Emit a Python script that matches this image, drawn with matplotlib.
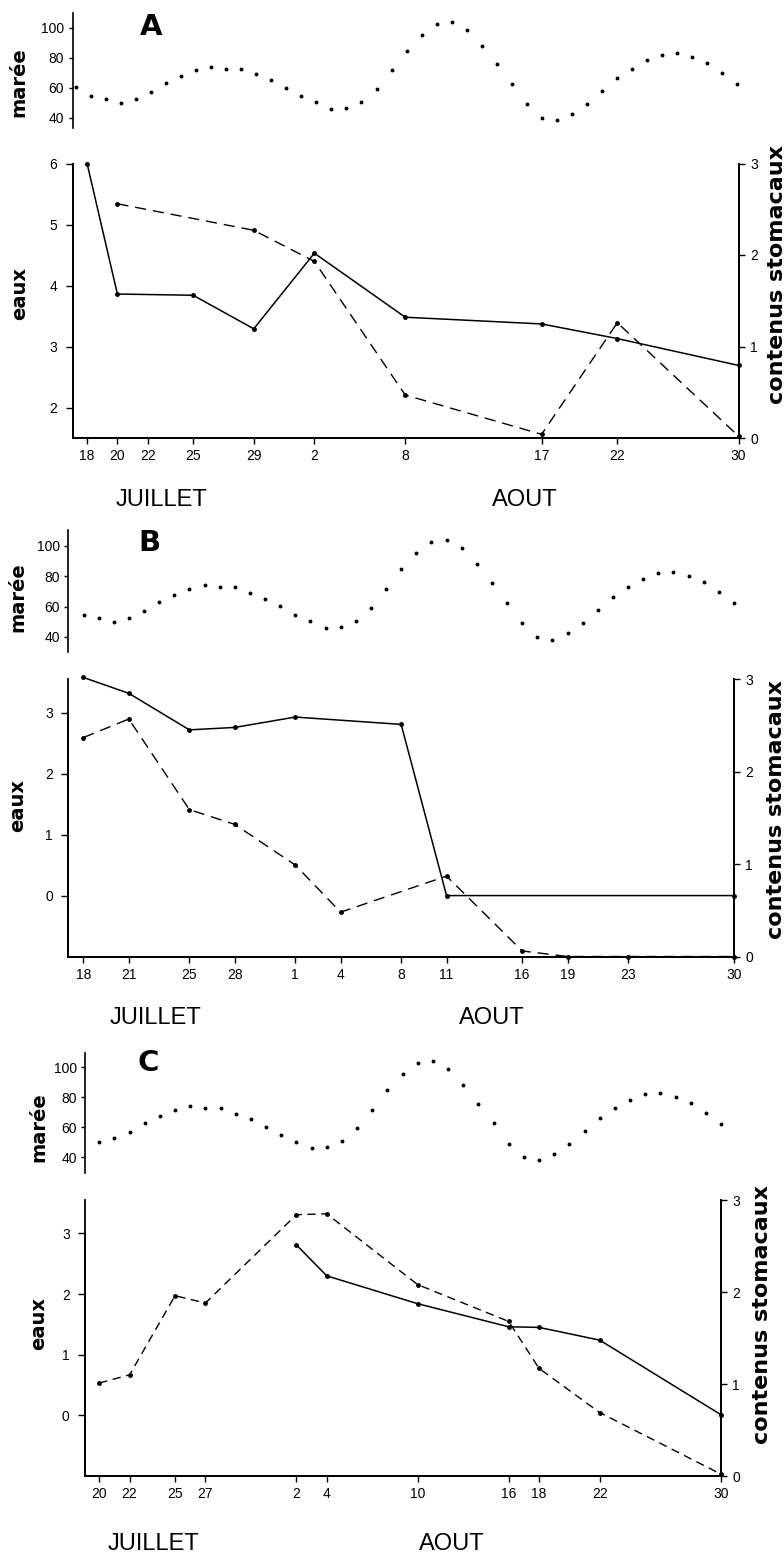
import matplotlib.pyplot as plt

W, H = 784, 1554
plt.rcParams['font.family'] = ['Liberation Sans', 'DejaVu Sans']

# coefficient de marée, un point par jour du 17 juillet au 30 août
tide = [60.4, 54.6, 52.6, 49.9, 52.6, 56.8, 63.1, 67.5, 71.8, 74.0, 72.7, 72.7,
        69.1, 65.3, 60.1, 54.6, 50.3, 46.0, 46.7, 50.7, 59.3, 71.8, 84.8, 95.5,
        102.7, 104.0, 98.9, 88.1, 75.8, 62.6, 49.0, 40.0, 38.3, 42.5, 49.0, 57.7,
        66.2, 72.7, 78.3, 82.1, 83.0, 80.3, 76.5, 69.5, 62.4]
tide_days = list(range(-1, 44))  # jour 0 = 18 juillet

# A
a_tick_days = [0, 2, 4, 7, 11, 15, 21, 30, 35, 43]
a_tick_labels = ['18', '20', '22', '25', '29', '2', '8', '17', '22', '30']
a_eaux_days = [0, 2, 7, 11, 15, 21, 30, 35, 43]
a_eaux = [6.0, 3.86, 3.84, 3.29, 4.53, 3.48, 3.37, 3.13, 2.69]
a_cont_days = [2, 11, 15, 21, 30, 35, 43]
a_cont = [2.56, 2.27, 1.93, 0.47, 0.04, 1.26, 0.02]

# B
b_tick_days = [0, 3, 7, 10, 14, 17, 21, 24, 29, 32, 36, 43]
b_tick_labels = ['18', '21', '25', '28', '1', '4', '8', '11', '16', '19', '23', '30']
b_eaux_days = [0, 3, 7, 10, 14, 21, 24, 43]
b_eaux = [3.58, 3.32, 2.72, 2.76, 2.93, 2.81, 0.0, 0.0]
b_cont_days = [0, 3, 7, 10, 14, 17, 24, 29, 32, 36, 43]
b_cont = [2.37, 2.57, 1.59, 1.43, 0.99, 0.48, 0.87, 0.06, 0.0, 0.0, 0.0]

# C
c_tick_days = [2, 4, 7, 9, 15, 17, 23, 29, 31, 35, 43]
c_tick_labels = ['20', '22', '25', '27', '2', '4', '10', '16', '18', '22', '30']
c_eaux_days = [15, 17, 23, 29, 31, 35, 43]
c_eaux = [2.81, 2.30, 1.84, 1.46, 1.45, 1.24, 0.01]
c_cont_days = [2, 4, 7, 9, 15, 17, 23, 29, 31, 35, 43]
c_cont = [1.01, 1.10, 1.96, 1.88, 2.84, 2.85, 2.08, 1.68, 1.17, 0.69, 0.02]

panels = [
    dict(letter='A', tide_start=-1,
         tide_box=(72.5, 13, 739, 128), tide_xlim=(-1.22, 43.11), tide_ylim=(33, 110),
         box=(72.7, 163.5, 739.3, 438), xlim=(-0.95, 43.05),
         ylim=(1.5, 6.0), yticks=[2, 3, 4, 5, 6],
         ticks=a_tick_days, labels=a_tick_labels,
         eaux_d=a_eaux_days, eaux=a_eaux, cont_d=a_cont_days, cont=a_cont,
         maree=(19, 82), eaux_lab=(19.5, 293), cont_lab=(777, 275),
         let=(151, 27), juil=(162, 500), aout=(525, 500), dash=(8, 5)),
    dict(letter='B', tide_start=0,
         tide_box=(68.4, 530, 734, 651.7), tide_xlim=(-1, 43), tide_ylim=(30.3, 110.5),
         box=(68.3, 679.3, 734, 956.5), xlim=(-1, 43),
         ylim=(-1, 3.55), yticks=[0, 1, 2, 3],
         ticks=b_tick_days, labels=b_tick_labels,
         eaux_d=b_eaux_days, eaux=b_eaux, cont_d=b_cont_days, cont=b_cont,
         maree=(17.5, 597), eaux_lab=(17.5, 805), cont_lab=(776, 810),
         let=(149, 543), juil=(155, 1018), aout=(492, 1018), dash=(8, 5)),
    dict(letter='C', tide_start=2,
         tide_box=(85, 1053.3, 721, 1173.3), tide_xlim=(1.06, 43), tide_ylim=(29.3, 109.3),
         box=(85, 1200, 721, 1476), xlim=(1.06, 43),
         ylim=(-1, 3.55), yticks=[0, 1, 2, 3],
         ticks=c_tick_days, labels=c_tick_labels,
         eaux_d=c_eaux_days, eaux=c_eaux, cont_d=c_cont_days, cont=c_cont,
         maree=(39, 1127), eaux_lab=(39, 1324), cont_lab=(762, 1314),
         let=(148, 1063), juil=(153, 1544), aout=(452, 1544), dash=(6, 4)),
]


def box(l, t, r, b):
    return [l / W, 1 - b / H, (r - l) / W, (b - t) / H]


def ftext(x, y, s, **kw):
    fig.text(x / W, 1 - y / H, s, ha='center', va='center', **kw)


fig = plt.figure(figsize=(W / 100, H / 100), dpi=100)

for p in panels:
    # marée
    tx = fig.add_axes(box(*p['tide_box']))
    i0 = tide_days.index(p['tide_start'])
    tx.plot(tide_days[i0:], tide[i0:], 'o', color='black', ms=1.8, clip_on=False)
    tx.set_xlim(*p['tide_xlim'])
    tx.set_ylim(*p['tide_ylim'])
    for s in ['top', 'right', 'bottom']:
        tx.spines[s].set_visible(False)
    tx.spines['left'].set_linewidth(1.2)
    tx.set_xticks([])
    tx.set_yticks([40, 60, 80, 100])
    tx.tick_params(axis='y', length=3, width=1, pad=3, labelsize=10)

    # eaux / contenus stomacaux
    ax = fig.add_axes(box(*p['box']))
    ax2 = ax.twinx()
    ax.plot(p['eaux_d'], p['eaux'], '-o', color='black', lw=1.1, ms=2.5, clip_on=False)
    ax2.plot(p['cont_d'], p['cont'], '--o', color='black', lw=1.0, ms=2.5,
             dashes=p['dash'], clip_on=False)
    ax.set_xlim(*p['xlim'])
    ax.set_ylim(*p['ylim'])
    ax2.set_ylim(0, 3)
    ax.set_xticks(p['ticks'])
    ax.set_xticklabels(p['labels'])
    ax.set_yticks(p['yticks'])
    ax2.set_yticks([0, 1, 2, 3])
    for a in (ax, ax2):
        a.spines['top'].set_visible(False)
        for s in ['left', 'right', 'bottom']:
            a.spines[s].set_linewidth(1.3)
    ax.spines['left'].set_bounds(p['ylim'][0], p['yticks'][-1])
    ax.tick_params(axis='x', length=4, width=1, pad=4, labelsize=10)
    ax.tick_params(axis='y', length=5, width=1, pad=6, labelsize=10)
    ax2.tick_params(axis='y', length=4, width=1, pad=4, labelsize=10)

    ftext(*p['maree'], 'marée', rotation=90, fontsize=14, fontweight='bold',
          family='DejaVu Sans')
    ftext(*p['eaux_lab'], 'eaux', rotation=90, fontsize=14, fontweight='bold',
          family='DejaVu Sans')
    ftext(*p['cont_lab'], 'contenus stomacaux', rotation=90, fontsize=16,
          fontweight='bold', family='DejaVu Sans')
    ftext(*p['let'], p['letter'], fontsize=21, fontweight='heavy', family='DejaVu Sans')
    ftext(*p['juil'], 'JUILLET', fontsize=17)
    ftext(*p['aout'], 'AOUT', fontsize=17)

fig.savefig('out.png', dpi=100)
